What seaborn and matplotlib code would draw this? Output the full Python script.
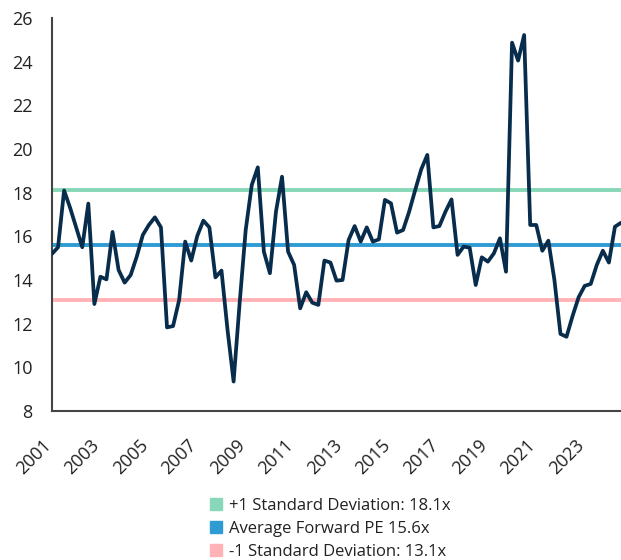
import numpy as np
import pandas as pd
import matplotlib
matplotlib.use("Agg")
import matplotlib.pyplot as plt
import matplotlib.transforms as mtransforms
from matplotlib.lines import Line2D
import seaborn as sns

# Quarterly forward P/E, 2001 Q1 .. 2024 Q3
pe = [15.2, 15.5, 18.1, 17.3, 16.4, 15.5, 17.5, 12.9, 14.15, 14.03,
      16.2, 14.46, 13.88, 14.23, 15.07, 16.06, 16.52, 16.87, 16.41, 11.83,
      11.89, 13.08, 15.76, 14.89, 16.02, 16.72, 16.41, 14.12, 14.43, 11.71,
      9.35, 12.95, 16.29, 18.35, 19.16, 15.30, 14.31, 17.13, 18.73, 15.30,
      14.69, 12.70, 13.44, 12.96, 12.86, 14.89, 14.80, 13.97, 14.00, 15.83,
      16.47, 15.76, 16.41, 15.76, 15.86, 17.67, 17.51, 16.17, 16.29, 17.13,
      18.12, 19.07, 19.73, 16.41, 16.47, 17.13, 17.69, 15.15, 15.53, 15.48,
      13.77, 15.04, 14.84, 15.22, 15.91, 14.38, 24.87, 24.05, 25.22, 16.52,
      16.52, 15.34, 15.80, 14.00, 11.53, 11.40, 12.35, 13.21, 13.73, 13.82,
      14.69, 15.34, 14.80, 16.44, 16.62]
quarters = [f"{y}Q{q}" for y in range(2001, 2025) for q in range(1, 5)][:len(pe)]
year_labels = ["2001", "2003", "2005", "2007", "2009", "2011",
               "2013", "2015", "2017", "2019", "2021", "2023"]
ref_values = [18.1, 15.6, 13.1]
ref_names = ["+1 Standard Deviation: 18.1x", "Average Forward PE 15.6x",
             "-1 Standard Deviation: 13.1x"]
ref_colors = ["#88d7b9", "#2f9bd3", "#ffb3b6"]
y_ticks = [8, 10, 12, 14, 16, 18, 20, 22, 24, 26]

df = pd.DataFrame({"quarter": quarters, "pe": pe})
df["pos"] = np.arange(len(df))

sns.set_theme(style="white")
plt.rcParams["font.family"] = ["Open Sans", "DejaVu Sans"]

fig = plt.figure(figsize=(6.21, 5.60), dpi=100)
ax = fig.add_axes([52 / 621, 1 - 411 / 560, 1 - 52 / 621, (411 - 18) / 560])

for v, c in zip(ref_values, ref_colors):
    ax.axhline(v, color=c, lw=2.8, zorder=1, solid_capstyle="butt")

sns.lineplot(data=df, x="pos", y="pe", ax=ax, color="#082c4b", lw=2.7,
             zorder=3, legend=False)

ax.set_xlim(0, len(pe) - 1)
ax.set_ylim(8, 26)
ax.set_yticks(y_ticks)
ax.set_yticklabels([str(t) for t in y_ticks])
tick_pos = [quarters.index(f"{y}Q1") for y in year_labels]
ax.set_xticks(tick_pos)
ax.set_xticklabels(year_labels, rotation=45, ha="right")
ax.tick_params(axis="y", length=0, pad=14, labelsize=13, labelcolor="#222222")
ax.tick_params(axis="x", length=0, pad=18, labelsize=13, labelcolor="#222222")
shift = mtransforms.ScaledTranslation(3 / 100, 0, fig.dpi_scale_trans)
for lab in ax.get_xticklabels():
    lab.set_transform(lab.get_transform() + shift)
ax.set_xlabel("")
ax.set_ylabel("")
for s in ["top", "right"]:
    ax.spines[s].set_visible(False)
for s in ["left", "bottom"]:
    ax.spines[s].set_color("#444444")
    ax.spines[s].set_linewidth(1.5)

handles = [Line2D([0], [0], marker="s", linestyle="none", markersize=8.5,
                  markerfacecolor=c, markeredgecolor=c) for c in ref_colors]
fig.legend(handles, ref_names, loc="upper center",
           bbox_to_anchor=(330 / 621, 1 - 498 / 560), frameon=False,
           fontsize=12, handletextpad=0.35, labelspacing=0.42,
           handlelength=0.8, labelcolor="#222222",
           borderpad=0, borderaxespad=0)

fig.savefig("out.png", dpi=100)
